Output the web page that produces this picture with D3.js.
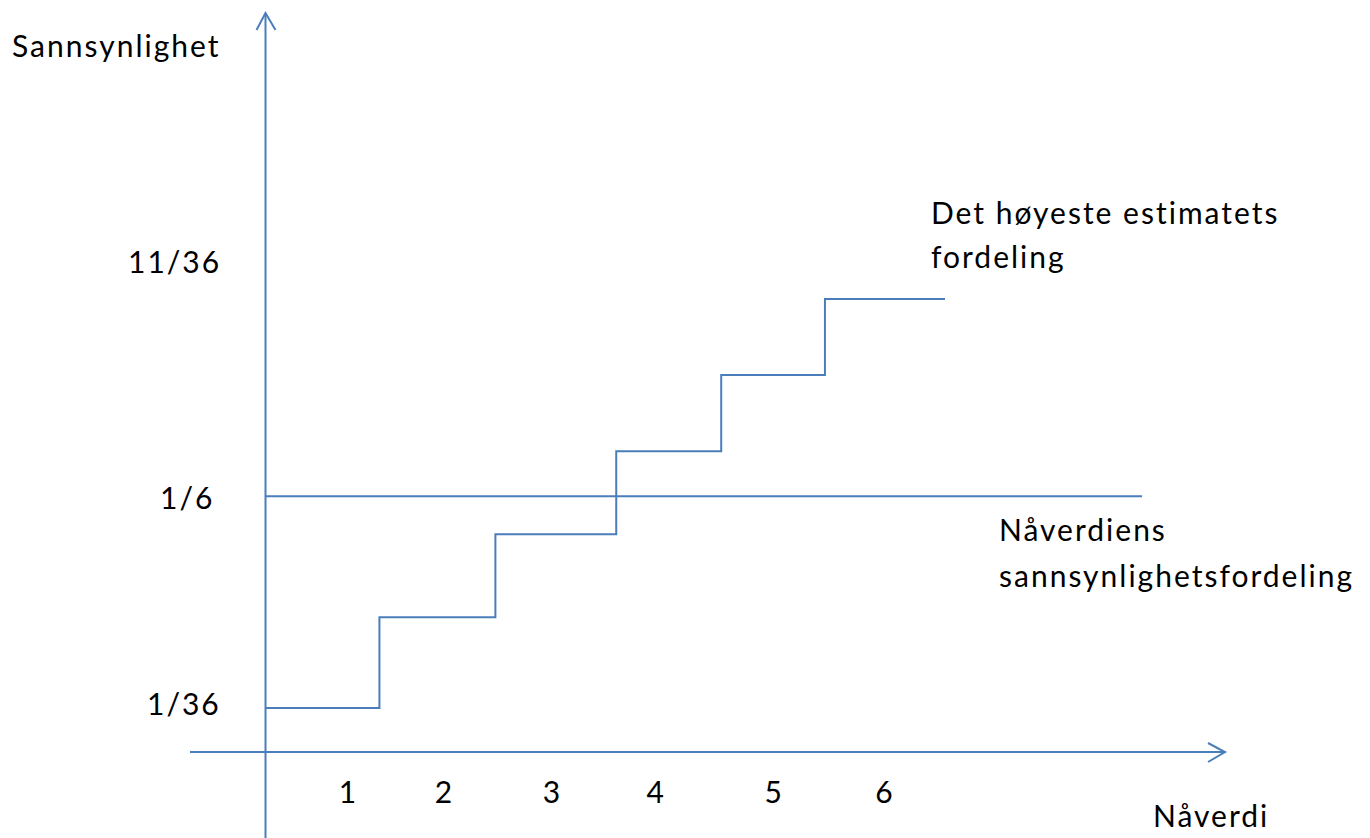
<!DOCTYPE html>
<html>
<head>
<meta charset="utf-8">
<script src="https://cdn.jsdelivr.net/npm/d3@7"></script>
<style>
  html, body { margin: 0; padding: 0; background: #fff; }
  svg { display: block; }
  text { font-family: Lato, "Open Sans", sans-serif; fill: #000; letter-spacing: 2px; }
</style>
</head>
<body>
<script>
// ---- data ----
// step boundaries along the x axis (x units), and step heights (in 36ths)
const stepEdges = [0, 1.006, 2.03, 3.097, 4.024, 4.94, 6.0];
const stepLevels36 = [1, 3.22, 5.25, 7.28, 9.14, 11];
// uniform distribution of the present value (1/6), as read
const uniformLevel36 = 6.18;
const uniformEnd = 7.74;
// x tick labels and where they sit (x units)
const xTickLabels = ["1", "2", "3", "4", "5", "6"];
const xTickPos = [0.724, 1.571, 2.524, 3.441, 4.482, 5.462];
// y tick labels and their values (in 36ths)
const yTickLabels = ["1/36", "1/6", "11/36"];
const yTickPos36 = [1.07, 6.11, 11.87];
const yAxisTitle = "Sannsynlighet";
const xAxisTitle = "Nåverdi";
const stepLabel = ["Det høyeste estimatets", "fordeling"];
const uniformLabel = ["Nåverdiens", "sannsynlighetsfordeling"];

// ---- layout ----
const yTickLeft = [147, 160, 128];

// ---- drawing ----
const W = 1370, H = 838;
const blue = "#4a7ebb";
const svg = d3.select("body").append("svg").attr("width", W).attr("height", H);

const x = d3.scaleLinear().domain([0, 6]).range([265.5, 945]);
const y = d3.scaleLinear().domain([1, 11]).range([708, 299]);

const g = svg.append("g");

// axes
g.append("line").attr("x1", x(0)).attr("x2", x(0)).attr("y1", 13).attr("y2", H)
  .attr("stroke", blue).attr("stroke-width", 2);
g.append("path").attr("d", `M${x(0)-9},30 L${x(0)},13 L${x(0)+10},30`)
  .attr("fill", "none").attr("stroke", blue).attr("stroke-width", 2);
const yAxisY = 752;
g.append("line").attr("x1", 190).attr("x2", 1225).attr("y1", yAxisY).attr("y2", yAxisY)
  .attr("stroke", blue).attr("stroke-width", 2);
g.append("path").attr("d", `M1208,743 L1225,${yAxisY} L1208,762`)
  .attr("fill", "none").attr("stroke", blue).attr("stroke-width", 2);

// step function
const pts = [];
stepLevels36.forEach((v, i) => {
  pts.push([x(stepEdges[i]), y(v)]);
  pts.push([x(stepEdges[i + 1]), y(v)]);
});
g.append("path").attr("d", d3.line()(pts))
  .attr("fill", "none").attr("stroke", blue).attr("stroke-width", 2);

// uniform line
g.append("line").attr("x1", x(0)).attr("x2", x(uniformEnd))
  .attr("y1", y(uniformLevel36)).attr("y2", y(uniformLevel36))
  .attr("stroke", blue).attr("stroke-width", 2);

const fs = 30;
// x tick labels
g.selectAll("text.xt").data(xTickLabels).join("text").attr("class", "xt")
  .attr("x", (d, i) => x(xTickPos[i]) + 1).attr("y", 803)
  .attr("text-anchor", "middle").attr("font-size", fs).text(d => d);

// y tick labels
g.selectAll("text.yt").data(yTickLabels).join("text").attr("class", "yt")
  .attr("x", (d, i) => yTickLeft[i]).attr("y", (d, i) => y(yTickPos36[i]) + 10)
  .attr("font-size", fs).text(d => d);

// titles
g.append("text").attr("x", 12).attr("y", 57).attr("font-size", fs).text(yAxisTitle);
g.append("text").attr("x", 1153).attr("y", 827).attr("font-size", fs).text(xAxisTitle);

g.selectAll("text.sl").data(stepLabel).join("text").attr("class", "sl")
  .attr("x", 931).attr("y", (d, i) => 224 + i * 44).attr("font-size", fs).text(d => d);
g.selectAll("text.ul").data(uniformLabel).join("text").attr("class", "ul")
  .attr("x", 999).attr("y", (d, i) => 541 + i * 46).attr("font-size", fs).text(d => d);
</script>
</body>
</html>
